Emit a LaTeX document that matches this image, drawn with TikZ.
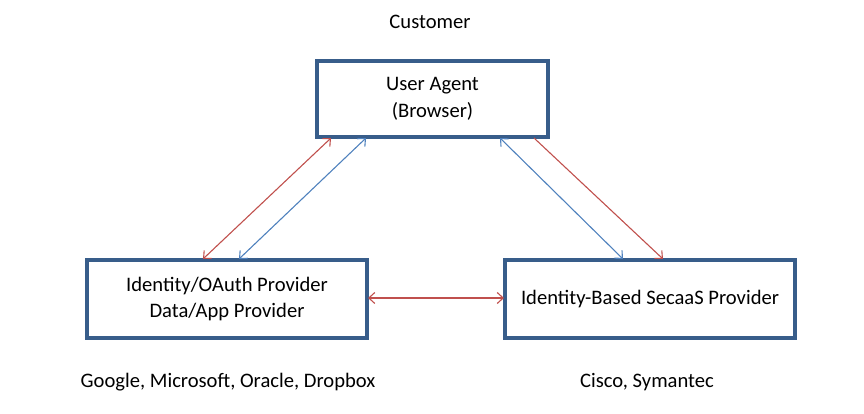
\documentclass[tikz,border=0pt]{standalone}
\usepackage{fontspec}
\setmainfont{Carlito}
\usetikzlibrary{arrows.meta}
\definecolor{boxblue}{HTML}{385D8A}
\definecolor{ared}{HTML}{C0504D}
\definecolor{ablue}{HTML}{4F81BD}
\begin{document}
\begin{tikzpicture}[x=1pt,y=-1pt,
  box/.style={draw=boxblue,line width=3.4pt,fill=white,inner sep=0pt,align=center,font=\fontsize{20.6}{26.5}\selectfont},
  lbl/.style={inner sep=0pt,font=\fontsize{20.6}{26.5}\selectfont},
  conn/.style={line width=1.1pt,{Straight Barb[length=6pt,width=11pt]}-{Straight Barb[length=6pt,width=11pt]}},
  connone/.style={line width=1.1pt,-{Straight Barb[length=6pt,width=11pt]}}]
\useasboundingbox (0,0) rectangle (864,414);
\node[box,minimum width=231pt,minimum height=76pt] (ua) at (432.5,99) {User Agent\\(Browser)};
\node[box,minimum width=280pt,minimum height=78pt] (idp) at (227,299) {Identity/OAuth Provider\\Data/App Provider};
\node[box,minimum width=290pt,minimum height=78pt] (sec) at (650,299) {Identity-Based SecaaS Provider};
\node[lbl] (cust) at (430,22) {Customer};
\node[lbl] (goog) at (228,382) {Google, Microsoft, Oracle, Dropbox};
\node[lbl] (cisco) at (647,382) {Cisco, Symantec};
\coordinate (r1a) at (203,259); \coordinate (r1b) at (331,138);
\coordinate (b1a) at (239,259); \coordinate (b1b) at (366,138);
\coordinate (b2a) at (500,138); \coordinate (b2b) at (623,259);
\coordinate (r2a) at (534,138); \coordinate (r2b) at (663,259);
\coordinate (ha) at (368,298); \coordinate (hb) at (504,298);
\draw[conn,ared] (r1a) -- (r1b);
\draw[conn,ablue] (b1a) -- (b1b);
\draw[conn,ablue] (b2a) -- (b2b);
\draw[connone,ared] (r2a) -- (r2b);
\draw[conn,ared] (ha) -- (hb);
\end{tikzpicture}
\end{document}
